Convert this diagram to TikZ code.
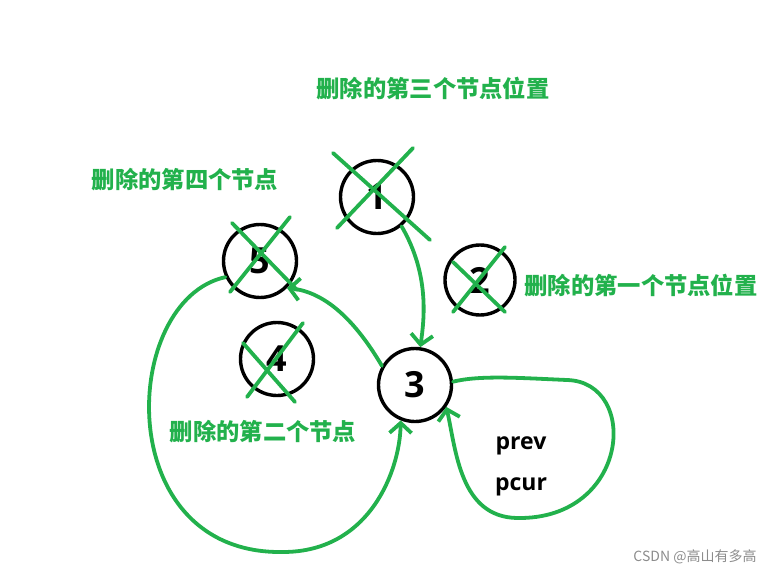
\documentclass[tikz,border=0pt]{standalone}
\usepackage{fontspec}
\setmainfont{Open Sans}
\newfontfamily\cjk{Noto Sans CJK SC}
\usetikzlibrary{arrows.meta}
\definecolor{paintgreen}{HTML}{22B14C}

\begin{document}
\begin{tikzpicture}[x=1pt,y=-1pt,
  ball/.style={draw,circle,line width=3.4pt,minimum size=73pt,inner sep=0pt,font=\bfseries\fontsize{36}{36}\selectfont},
  strike/.style={paintgreen,line width=3.8pt,line cap=round},
  link/.style={paintgreen,line width=3.8pt,line cap=round,-{Straight Barb[length=10pt,width=22pt,line width=3.8pt]}},
  note/.style={paintgreen,font=\cjk\bfseries\fontsize{23.3}{23.3}\selectfont},
  var/.style={font=\bfseries\fontsize{23}{23}\selectfont}]
\useasboundingbox (0,0) rectangle (765,572);
% nodes of the list
\node[ball](1) at (377,197){1};
\node[ball,minimum size=70pt](2) at (480,280){2};
\node[ball](3) at (415,385){3};
\node[ball](4) at (277,359){4};
\node[ball](5) at (260,261){5};
% crossed out
\draw[strike] ([shift={(-44,-44)}]1.center) -- ([shift={(53,43)}]1.center);
\draw[strike] ([shift={(36,-49)}]1.center) -- ([shift={(-40,31)}]1.center);
\draw[strike] ([shift={(-27,-18)}]2.center) -- ([shift={(25,32)}]2.center);
\draw[strike] ([shift={(25,-33)}]2.center) -- ([shift={(-27,32)}]2.center);
\draw[strike] ([shift={(-34,-16)}]4.center) -- ([shift={(18,43)}]4.center);
\draw[strike] ([shift={(26,-36)}]4.center) -- ([shift={(-30,38)}]4.center);
\draw[strike] ([shift={(-28,-38)}]5.center) -- ([shift={(37,29)}]5.center);
\draw[strike] ([shift={(30,-44)}]5.center) -- ([shift={(-30,31)}]5.center);
% labels
\node[note](t3) at (433,89){删除的第三个节点位置};
\node[note](t4) at (185,180){删除的第四个节点};
\node[note](t1) at (641,286){删除的第一个节点位置};
\node[note](t2) at (263,432){删除的第二个节点};
\node[var](prev) at (521,446){prev};
\node[var](pcur) at (521,487){pcur};
\node[font=\cjk\fontsize{14}{14}\selectfont,text=black!45](wm) at (695,557){CSDN @高山有多高};
% links
\draw[link](1.-50) .. controls (430,275) and (424,320) .. (3.82);
\draw[link](3.150) .. controls (355,320) and (325,292) .. (5.-45);
\draw[link](5.-155) .. controls (120,300) and (110,555) .. (283,552)
  .. controls (370,552) and (400,470) .. (3.-112);
\draw[link](3.5) .. controls (480,375) and (520,378) .. (567,380)
  .. controls (640,382) and (630,520) .. (517,518)
  .. controls (460,517) and (456,450) .. (3.-35);
\end{tikzpicture}
\end{document}
